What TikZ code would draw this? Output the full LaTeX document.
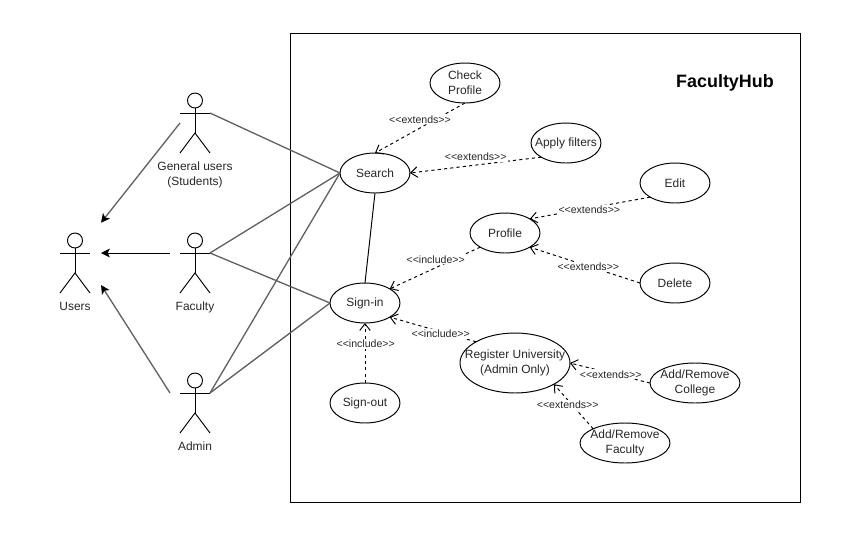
\documentclass[tikz,border=0pt]{standalone}
\usepackage{fontspec}
\setmainfont{Liberation Sans}
\usetikzlibrary{arrows.meta, shapes.geometric}

\tikzset{
  usecase/.style={draw, ellipse, minimum width=1.4cm, minimum height=0.8cm, inner sep=-8mm, outer sep=0pt, align=center, text=black!85, font=\fontsize{6.8}{8.5}\selectfont, line width=0.55pt},
  actorbox/.style={rectangle, minimum width=0.6cm, minimum height=1pt, inner sep=0pt, outer sep=0pt},
  actorname/.style={align=center, inner sep=0pt, anchor=north, text=black!85, font=\fontsize{6.8}{8.5}\selectfont},
  lbl/.style={fill=white, inner sep=0.6pt, text=black!85, font=\fontsize{6}{7}\selectfont},
  assoc/.style={line width=0.75pt, black!62},
  genarrow/.style={line width=0.75pt, black!62, -{Stealth[length=5pt, width=5pt, inset=1.2pt, black]}},
  dep/.style={dashed, dash pattern=on 1.8pt off 1.8pt, line width=0.55pt, -{Straight Barb[length=3.8pt, width=6pt]}}
}

% stick figure: name, position of the arms, caption
\newcommand{\actorfig}[3]{
  \node[actorbox] (#1) at (#2) {};
  \begin{scope}[shift={(#2)}, line width=0.55pt]
    \draw (0, -12.5) circle[radius=7.5];
    \draw (#1.west) -- (#1.east);
    \draw (0, -5) -- (0, 20);
    \draw (-15, 40) -- (0, 20) -- (15, 40);
    \node[actorname] (#1name) at (0, 48.5) {#3};
  \end{scope}
}

\begin{document}
\begin{tikzpicture}[x=0.02cm, y=-0.02cm]
  \useasboundingbox (0, 0) rectangle (850, 535);
  \node[draw, rectangle, line width=0.6pt, minimum width=10.2cm, minimum height=9.39cm, inner sep=0pt] (system) at (545.5, 268.2) {};
  \node[font=\fontsize{10.2}{12}\selectfont\bfseries, inner sep=0pt] (title) at (725, 83) {FacultyHub};

  \actorfig{users}{75, 253}{Users}
  \actorfig{general}{195, 113}{General users\\(Students)}
  \actorfig{faculty}{195, 253}{Faculty}
  \actorfig{admin}{195, 393}{Admin}

  \node[usecase] (search) at (375, 173) {Search};
  \node[usecase] (signin) at (365, 303) {Sign-in};
  \node[usecase] (signout) at (365, 403) {Sign-out};
  \node[usecase] (check) at (465, 83) {Check\\Profile};
  \node[usecase] (filters) at (566, 143) {Apply filters};
  \node[usecase] (profile) at (505, 233) {Profile};
  \node[usecase] (edit) at (675, 183) {Edit};
  \node[usecase] (delete) at (675, 283) {Delete};
  \node[usecase, minimum width=2.2cm, minimum height=1.2cm] (register) at (515, 363) {Register University\\(Admin Only)};
  \node[usecase, minimum width=1.8cm] (college) at (695, 383) {Add/Remove\\College};
  \node[usecase, minimum width=1.8cm] (addfaculty) at (625, 443) {Add/Remove\\Faculty};

  % ends of the arrows that stop short of a figure
  \coordinate (generaltail) at (180, 123);
  \coordinate (facultytail) at (170, 253);
  \coordinate (admintail) at (170, 393);
  \coordinate (userstop) at (101, 222.7);
  \coordinate (usersmid) at (101, 253);
  \coordinate (userslow) at (101, 285);

  \draw[genarrow] (generaltail) -- (userstop);
  \draw[genarrow, line width=0.55pt, black] (facultytail) -- (usersmid);
  \draw[genarrow] (admintail) -- (userslow);

  \draw[assoc] (general.east) -- (search.west);
  \draw[assoc] (faculty.east) -- (search.west);
  \draw[assoc] (faculty.east) -- (signin.west);
  \draw[assoc] (admin.east) -- (search.west);
  \draw[assoc] (admin.east) -- (signin.west);
  \draw[line width=0.55pt] (search.south) -- (signin.north);

  \draw[dep] (check.south) -- (search.north);
  \draw[dep] (filters.south west) -- (search.east);
  \draw[dep] (edit.south west) -- (profile.north east);
  \draw[dep] (delete.west) -- (profile.south east);
  \draw[dep] (profile.south west) -- (signin.north east);
  \draw[dep] (register.north west) -- (signin.south east);
  \draw[dep] (signout.north) -- (signin.south);
  \draw[dep] (college.west) -- (register.east);
  \draw[dep] (addfaculty.north west) -- (register.south east);

  \node[lbl] (extcheck) at (420, 119.3) {<{}<extends>{}>};
  \node[lbl] (extfilters) at (475.7, 156.7) {<{}<extends>{}>};
  \node[lbl] (extedit) at (589.3, 210) {<{}<extends>{}>};
  \node[lbl] (extdelete) at (588.3, 267) {<{}<extends>{}>};
  \node[lbl] (incprofile) at (435.7, 259.3) {<{}<include>{}>};
  \node[lbl] (incregister) at (440.7, 334) {<{}<include>{}>};
  \node[lbl] (incsignout) at (365.7, 344) {<{}<include>{}>};
  \node[lbl] (extcollege) at (610.7, 374.3) {<{}<extends>{}>};
  \node[lbl] (extfaculty) at (567.7, 405) {<{}<extends>{}>};
\end{tikzpicture}
\end{document}
